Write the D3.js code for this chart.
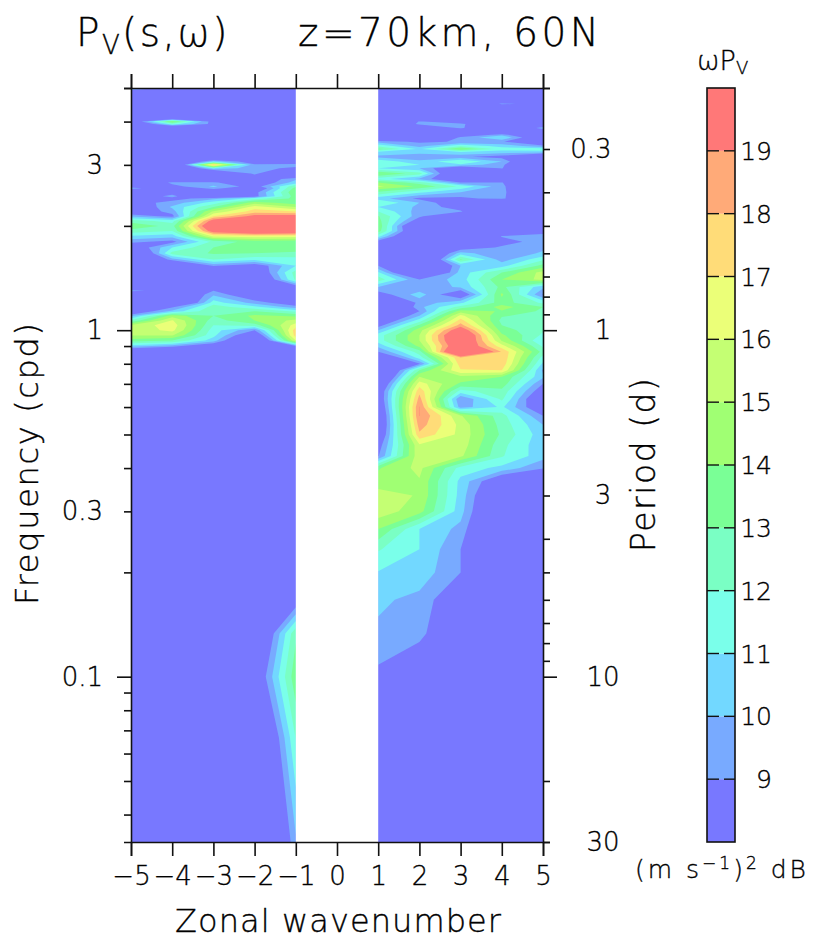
<!DOCTYPE html>
<html>
<head>
<meta charset="utf-8">
<script src="https://cdn.jsdelivr.net/npm/d3@7"></script>
<style>
  html, body { margin: 0; background: #fff; }
  svg { display: block; }
  text { font-family: "DejaVu Sans", sans-serif; font-weight: 200; fill: #000; stroke: #000; stroke-width: 0.35px; }
</style>
</head>
<body>
<div id="chart"></div>
<script>
// Contour levels (dB) and the colour of each band, lowest first
const levels = [9, 10, 11, 12, 13, 14, 15, 16, 17, 18, 19];
const bandColors = ['#7878ff', '#78aaff', '#72d8ff', '#7affea', '#7affc4', '#7aff96', '#a0ff73', '#c4ff73', '#ebff78', '#ffdc78', '#ffaa78', '#ff7878'];

const wavenumbers = [-5, -4, -3, -2, -1, 0, 1, 2, 3, 4, 5];
const westward = [-5, -4, -3, -2, -1];
const eastward = [1, 2, 3, 4, 5];

const freqTicks = [5, 4, 3, 2, 1, 0.9, 0.8, 0.7, 0.6, 0.5, 0.4, 0.3, 0.2, 0.1, 0.09, 0.08, 0.07, 0.06, 0.05, 0.04];
const freqLong = [1, 0.1];
const freqLabels = [3, 1, 0.3, 0.1];
const periodTicks = [0.2, 0.3, 0.4, 0.5, 0.6, 0.7, 0.8, 0.9, 1, 2, 3, 4, 5, 6, 7, 8, 9, 10, 20, 30];
const periodLong = [1, 10];
const periodLabels = [0.3, 1, 3, 10, 30];

// Frequency rows are harmonics of 1/30 cpd; only the rows that carry detail are kept
const westHarmonics = [1, 2, 3, 4, 5, 6, 26, 27, 28, 29, 30, 31, 32, 33, 34, 35, 36, 38, 39, 40, 42, 44, 46, 48, 50, 52, 54, 56, 58, 60, 62, 64, 66, 68, 70, 72, 73, 75, 77, 78, 80, 82, 85, 88, 90, 92, 95, 115, 118, 120, 122, 125, 145, 150];
const westPower = [
  [5, 5, 5, 3, 9.85],
  [5, 5, 5, 4.6, 12.05],
  [5, 5, 5, 7.26, 13.7],
  [5, 5, 5, 5.7, 12.8],
  [5, 5, 5, 5, 7.9],
  [5, 5, 5, 5, 5],
  [6.5, 6, 5.5, 5, 6],
  [10.5, 9.5, 7.3, 5, 9],
  [13.5, 13, 10.5, 5, 16],
  [15.1, 15.1, 11.3, 7, 17.5],
  [15.3, 16.3, 11.5, 9, 17.6],
  [15.2, 16.6, 12, 12.5, 16.5],
  [12.2, 16.1, 12.5, 14, 15.3],
  [9.7, 14.5, 13, 14.2, 13.8],
  [7.5, 10.3, 12.9, 13, 11.8],
  [6, 8.8, 12.5, 11.3, 9.4],
  [5, 5, 11.5, 9.6, 8],
  [6, 6, 9.8, 7.5, 6.5],
  [9.6, 7.8, 9, 6, 6],
  [5, 5, 8.5, 5, 8],
  [5, 5, 5, 6, 12.2],
  [5, 5, 5, 7, 12.5],
  [5, 5, 9.1, 8, 11],
  [5, 9.5, 12, 11.3, 11.5],
  [5, 12.4, 13.1, 13, 12.9],
  [7.5, 11, 13, 13.6, 13.3],
  [9.3, 8.6, 12.3, 13.5, 13.3],
  [10.8, 10.4, 16.2, 16.6, 16.4],
  [12.6, 12, 20, 21.5, 21],
  [13.8, 12.6, 21.5, 23, 23],
  [12.5, 11.6, 19.9, 22, 22],
  [9.8, 8.6, 17, 19.5, 19.6],
  [7.6, 9.5, 15.2, 17.5, 17],
  [7, 10.2, 13, 16.5, 15],
  [8.4, 9.4, 11.5, 14.5, 13.5],
  [5, 8.5, 9.6, 11.5, 13.3],
  [8, 9.3, 7, 8.5, 13.6],
  [5, 8.5, 6, 8.5, 14],
  [9.7, 7, 9.6, 7, 13.5],
  [8.2, 8.5, 10.2, 8.3, 12.8],
  [5.5, 9.4, 9.2, 7.5, 10.5],
  [5, 6, 6, 7.5, 9.8],
  [5, 5, 5, 9.4, 5],
  [5, 5, 11, 9.3, 8.8],
  [5, 5, 18.1, 9.2, 9.3],
  [5, 5, 10.5, 8, 8],
  [5, 5, 5, 5, 5],
  [5, 5.5, 5, 5, 5],
  [6, 11.5, 8.6, 5, 5],
  [7.2, 14.3, 8.3, 5, 5],
  [5, 8.7, 5, 5, 5],
  [5, 5, 5, 5, 5],
  [5, 5, 5, 5, 5],
  [11.8, 8, 5, 5, 5]
];

const eastHarmonics = [1, 2, 3, 4, 5, 6, 7, 8, 9, 10, 11, 12, 13, 14, 15, 16, 17, 18, 19, 20, 21, 22, 23, 24, 25, 26, 27, 28, 29, 30, 31, 32, 33, 34, 35, 36, 38, 40, 42, 44, 46, 48, 50, 52, 54, 56, 58, 60, 62, 64, 66, 68, 70, 72, 75, 78, 80, 82, 85, 88, 90, 92, 95, 98, 100, 102, 105, 108, 110, 112, 115, 118, 120, 122, 130, 135, 140, 150];
const eastPower = [
  [8, 6, 5, 5, 5],
  [8, 6, 5, 5, 5],
  [8.7, 7, 6, 5, 5],
  [9.8, 9.5, 6.5, 5, 5],
  [10.2, 9.7, 7.7, 5, 5],
  [10.95, 10.6, 9, 6, 5],
  [12.1, 11, 9, 6, 5],
  [14, 11, 9.7, 5, 5],
  [15.6, 14.4, 10.4, 5.5, 5],
  [15.5, 14.9, 10.6, 6, 5],
  [14.4, 14.9, 10.7, 7.4, 5],
  [13.9, 15.3, 11.6, 10.7, 9.1],
  [8.9, 15.8, 15.2, 12.1, 10.4],
  [8.3, 15.9, 15.6, 12.3, 10.3],
  [7, 17.8, 15.7, 12.8, 10.4],
  [6.5, 18.5, 15.7, 12.6, 10],
  [6.5, 19.03, 15.1, 12.4, 9],
  [7, 19.04, 9.5, 11.2, 7.5],
  [7.5, 18.4, 9, 12.2, 6.8],
  [7.5, 17.7, 11.6, 12.7, 8],
  [6.5, 16.5, 13.8, 13.6, 9],
  [5, 15, 14.7, 14, 10.2],
  [4.5, 13, 16.9, 17, 9.8],
  [5, 8.9, 17.6, 17.7, 10.8],
  [6.5, 11.5, 18, 17.9, 11.6],
  [9, 12.5, 23.5, 17.9, 12.6],
  [10.3, 14.3, 21, 16.4, 11.8],
  [11.5, 15, 21.5, 14.9, 11],
  [11.5, 15, 21.7, 14.2, 11.8],
  [10, 14.6, 20.3, 13.5, 12.1],
  [8.4, 13.2, 18.4, 13, 12],
  [7, 11.5, 17.4, 12.7, 12.2],
  [6, 10, 16.3, 13.1, 12.6],
  [5, 9, 14.5, 13.9, 12.8],
  [5, 9.7, 12.4, 14.4, 13],
  [5, 9.4, 10.8, 13.5, 11.8],
  [8.3, 10.5, 7.5, 14.2, 8.9],
  [10, 9.2, 10.2, 13.3, 10.3],
  [12.6, 9, 10.5, 14, 15.3],
  [11.2, 5, 10.4, 13, 15.4],
  [9, 5, 10, 10.6, 13.4],
  [6, 4.5, 13.2, 9.5, 11.8],
  [6, 5, 10.5, 9, 10.2],
  [6, 5, 8, 9.2, 9.7],
  [8.3, 5, 6, 8.4, 9.6],
  [11.4, 5, 5, 9.1, 9.4],
  [13.5, 6, 5, 6, 8.5],
  [13.8, 5.5, 5, 5, 6],
  [13.4, 8, 5, 5, 5],
  [13.1, 9.3, 6, 5, 5],
  [12, 9.5, 9.2, 5, 5],
  [11, 9.8, 8.3, 5, 5],
  [12, 10, 7.5, 5, 5],
  [10.5, 8.7, 8.7, 9.4, 5],
  [12.8, 11.2, 10, 9.5, 5],
  [15.2, 13.8, 11.8, 9.4, 5],
  [14, 12.5, 9, 9.1, 5],
  [11.5, 9.8, 7, 5, 5],
  [14, 12.5, 5.5, 5, 5],
  [11, 10, 7, 9.1, 5],
  [11.5, 11, 10.8, 9.3, 5],
  [11.8, 10.2, 12, 10, 5],
  [9.7, 9.5, 9.2, 8.5, 5],
  [10.8, 10.3, 11, 10.5, 10.6],
  [13.3, 10.8, 14.1, 11.5, 11.5],
  [11.8, 9.6, 11.8, 10.6, 9.4],
  [9.5, 8.8, 9.1, 9.2, 6],
  [6, 6, 9.2, 11, 7],
  [5, 5, 7.5, 9.5, 6],
  [5, 5, 5, 6, 7],
  [5, 6, 9.3, 6, 9.6],
  [5, 9.4, 9.4, 6, 7],
  [5, 9.1, 8, 5, 5],
  [5, 5, 5, 5, 5],
  [5, 5, 5, 6, 6],
  [5, 5, 5, 9.3, 8.4],
  [5, 5, 5, 5, 5],
  [5, 5, 5, 5, 5]
];

const W = 814, H = 940;
const plot = { left: 131, right: 543, top: 88, bottom: 842 };

const x = d3.scaleLinear().domain([-5, 5]).range([plot.left, plot.right]);
const y = d3.scaleLog().domain([1 / 30, 5]).range([plot.bottom, plot.top]);
const yPeriod = d3.scaleLog().domain([30, 0.2]).range([plot.bottom, plot.top]);
const yBar = d3.scaleLinear().domain([8, 20]).range([plot.bottom, plot.top]);

const svg = d3.select('#chart').append('svg').attr('width', W).attr('height', H);

svg.append('rect')
  .attr('x', plot.left).attr('y', plot.top)
  .attr('width', plot.right - plot.left).attr('height', plot.bottom - plot.top)
  .attr('fill', bandColors[0]);

function drawBands(waves, harmonics, power) {
  const values = power.flat();
  const contours = d3.contours().size([waves.length, harmonics.length]).thresholds(levels)(values);
  // d3.contours works in index space, so map through the irregular rows and columns
  const colAt = d3.scaleLinear().domain(d3.range(waves.length)).range(waves.map(x)).clamp(true);
  const rowAt = d3.scaleLinear().domain(d3.range(harmonics.length)).range(harmonics.map((n) => y(n / 30))).clamp(true);
  const path = d3.geoPath(d3.geoTransform({
    point(px, py) { this.stream.point(colAt(px - 0.5), rowAt(py - 0.5)); }
  }));
  svg.append('g').selectAll('path')
    .data(contours)
    .join('path')
    .attr('d', path)
    .attr('fill', (d, i) => bandColors[i + 1]);
}

drawBands(westward, westHarmonics, westPower);
drawBands(eastward, eastHarmonics, eastPower);

// Nothing is defined between s=-1 and s=1
svg.append('rect')
  .attr('x', x(-1)).attr('y', plot.top - 0.5)
  .attr('width', x(1) - x(-1)).attr('height', plot.bottom - plot.top + 1)
  .attr('fill', '#fff');

function styleAxis(axis) {
  axis.selectAll('line').attr('stroke', '#111').attr('stroke-width', 1.6);
  axis.select('.domain').attr('stroke', '#111').attr('stroke-width', 1.6);
  axis.selectAll('text').style('font-size', '26px');
}

const fmtWave = (d) => (d < 0 ? '\u2212' + -d : String(d));

svg.append('g')
  .attr('transform', `translate(0,${plot.bottom})`)
  .call(d3.axisBottom(x).tickValues(wavenumbers).tickSizeOuter(0).tickSize(14).tickPadding(11).tickFormat(fmtWave))
  .call(styleAxis);

svg.append('g')
  .attr('transform', `translate(0,${plot.top})`)
  .call(d3.axisTop(x).tickValues(wavenumbers).tickSizeOuter(0).tickSize(14).tickFormat(''))
  .call(styleAxis);

svg.append('g')
  .attr('transform', `translate(${plot.left},0)`)
  .call(d3.axisLeft(y).tickValues(freqTicks).tickSizeOuter(0).tickSize(7).tickFormat((d) => (freqLabels.includes(d) ? String(d) : '')))
  .call(styleAxis)
  .call((axis) => axis.selectAll('.tick line').filter((d) => freqLong.includes(d)).attr('x2', -14))
  .call((axis) => axis.selectAll('.tick text').attr('x', -28));

svg.append('g')
  .attr('transform', `translate(${plot.right},0)`)
  .call(d3.axisRight(yPeriod).tickValues(periodTicks).tickSizeOuter(0).tickSize(7).tickFormat((d) => (periodLabels.includes(d) ? String(d) : '')))
  .call(styleAxis)
  .call((axis) => axis.selectAll('.tick line').filter((d) => periodLong.includes(d)).attr('x2', 14))
  .call((axis) => axis.selectAll('.tick text').attr('x', (d) => (d < 1 ? 48 : 60)).attr('text-anchor', 'middle'));

// Title
const titleLeft = svg.append('text').attr('x', 76).attr('y', 46).style('font-size', '39px').style('letter-spacing', '2.4px');
titleLeft.append('tspan').text('P');
titleLeft.append('tspan').attr('dy', 8).style('font-size', '26px').text('V');
titleLeft.append('tspan').attr('dy', -8).text('(s,\u03c9)');

svg.append('text').attr('x', 298).attr('y', 46).style('font-size', '39px')
  .attr('textLength', 301).attr('lengthAdjust', 'spacing')
  .text('z=70km, 60N');

svg.append('text').attr('x', 175).attr('y', 932).style('font-size', '32px')
  .attr('textLength', 326).attr('lengthAdjust', 'spacing')
  .text('Zonal wavenumber');

svg.append('text').attr('transform', 'translate(38,605) rotate(-90)').style('font-size', '32px')
  .attr('textLength', 282).attr('lengthAdjust', 'spacing')
  .text('Frequency (cpd)');

svg.append('text').attr('transform', 'translate(655,552) rotate(-90)').style('font-size', '33px')
  .attr('textLength', 174).attr('lengthAdjust', 'spacing')
  .text('Period (d)');

// Colour bar
const barX = 707, barW = 28;
const barEdges = [8, ...levels];

svg.append('g').selectAll('rect')
  .data(barEdges)
  .join('rect')
  .attr('x', barX)
  .attr('y', (d) => yBar(d + 1))
  .attr('width', barW)
  .attr('height', (d) => yBar(d) - yBar(d + 1))
  .attr('fill', (d, i) => bandColors[i]);

svg.append('rect')
  .attr('x', barX).attr('y', plot.top)
  .attr('width', barW).attr('height', plot.bottom - plot.top)
  .attr('fill', 'none').attr('stroke', '#111').attr('stroke-width', 1.6);

svg.append('g').selectAll('line.left-dash')
  .data(levels)
  .join('line')
  .attr('class', 'left-dash')
  .attr('x1', barX).attr('x2', barX + 12)
  .attr('y1', yBar).attr('y2', yBar)
  .attr('stroke', '#111').attr('stroke-width', 1.4);

svg.append('g').selectAll('line.right-dash')
  .data(levels)
  .join('line')
  .attr('class', 'right-dash')
  .attr('x1', barX + 17).attr('x2', barX + barW)
  .attr('y1', yBar).attr('y2', yBar)
  .attr('stroke', '#111').attr('stroke-width', 1.4);

svg.append('g').selectAll('text')
  .data(levels)
  .join('text')
  .attr('x', 772)
  .attr('y', yBar)
  .attr('dy', '0.36em')
  .attr('text-anchor', 'end')
  .style('font-size', '25px')
  .text((d) => d);

const barTitle = svg.append('text').attr('x', 697).attr('y', 70).style('font-size', '27px');
barTitle.append('tspan').text('\u03c9P');
barTitle.append('tspan').attr('dy', 4).style('font-size', '18px').text('V');

const unit = svg.append('text').attr('x', 635).attr('y', 878).style('font-size', '25px').style('letter-spacing', '3px');
unit.append('tspan').text('(m s');
unit.append('tspan').attr('dy', -9).style('font-size', '17px').text('\u22121');
unit.append('tspan').attr('dy', 9).text(')');
unit.append('tspan').attr('dy', -9).style('font-size', '17px').text('2');
unit.append('tspan').attr('dy', 9).text(' dB');
</script>
</body>
</html>
